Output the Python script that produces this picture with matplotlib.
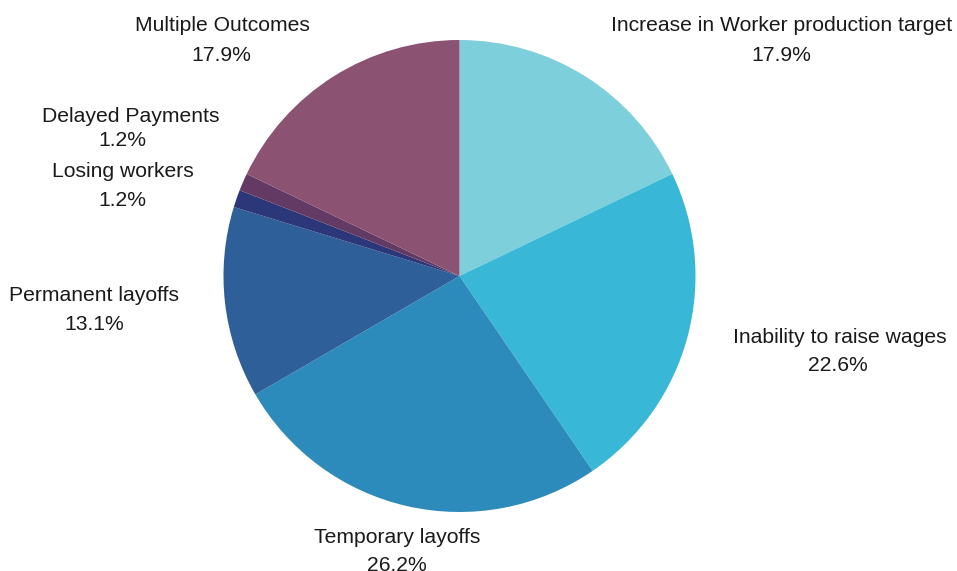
import matplotlib
matplotlib.use("Agg")
import matplotlib.pyplot as plt

categories = [
    "Increase in Worker production target",
    "Inability to raise wages",
    "Temporary layoffs",
    "Permanent layoffs",
    "Losing workers",
    "Delayed Payments",
    "Multiple Outcomes",
]
shares = [17.9, 22.6, 26.2, 13.1, 1.2, 1.2, 17.9]
colors = ["#7ecfdc", "#38b7d6", "#2d8bbb", "#2e5f99", "#2b3778", "#633a64", "#8b5371"]

# label anchor points (x center, baseline of name line, baseline of value line), pixel space from top-left
label_pos = [
    (781.5, 31, 61, 781),
    (839.5, 343, 371, 838),
    (397.5, 543, 571, 397),
    (94, 301, 330, 94.5),
    (122.5, 177, 206, 122),
    (131, 122, 146, 122.5),
    (222.5, 31, 61, 221.5),
]

W, H = 957, 571
fig = plt.figure(figsize=(W / 100, H / 100), dpi=100)
ax = fig.add_axes([0, 0, 1, 1])
ax.set_xlim(0, W)
ax.set_ylim(0, H)
ax.set_aspect("equal")
ax.axis("off")

ax.pie(shares, colors=colors, startangle=90, counterclock=False,
       center=(459.5, H - 276), radius=236,
       wedgeprops=dict(linewidth=0))
ax.set_xlim(0, W)
ax.set_ylim(0, H)

font = dict(family=["Liberation Sans", "DejaVu Sans"], fontsize=15.2, color="#1a1a1a")
for name, val, (xn, yn, yv, xv) in zip(categories, shares, label_pos):
    ax.text(xn, H - yn, name, ha="center", va="baseline", **font)
    ax.text(xv, H - yv, f"{val:.1f}%", ha="center", va="baseline", **font)

fig.savefig("out.png", dpi=100)
